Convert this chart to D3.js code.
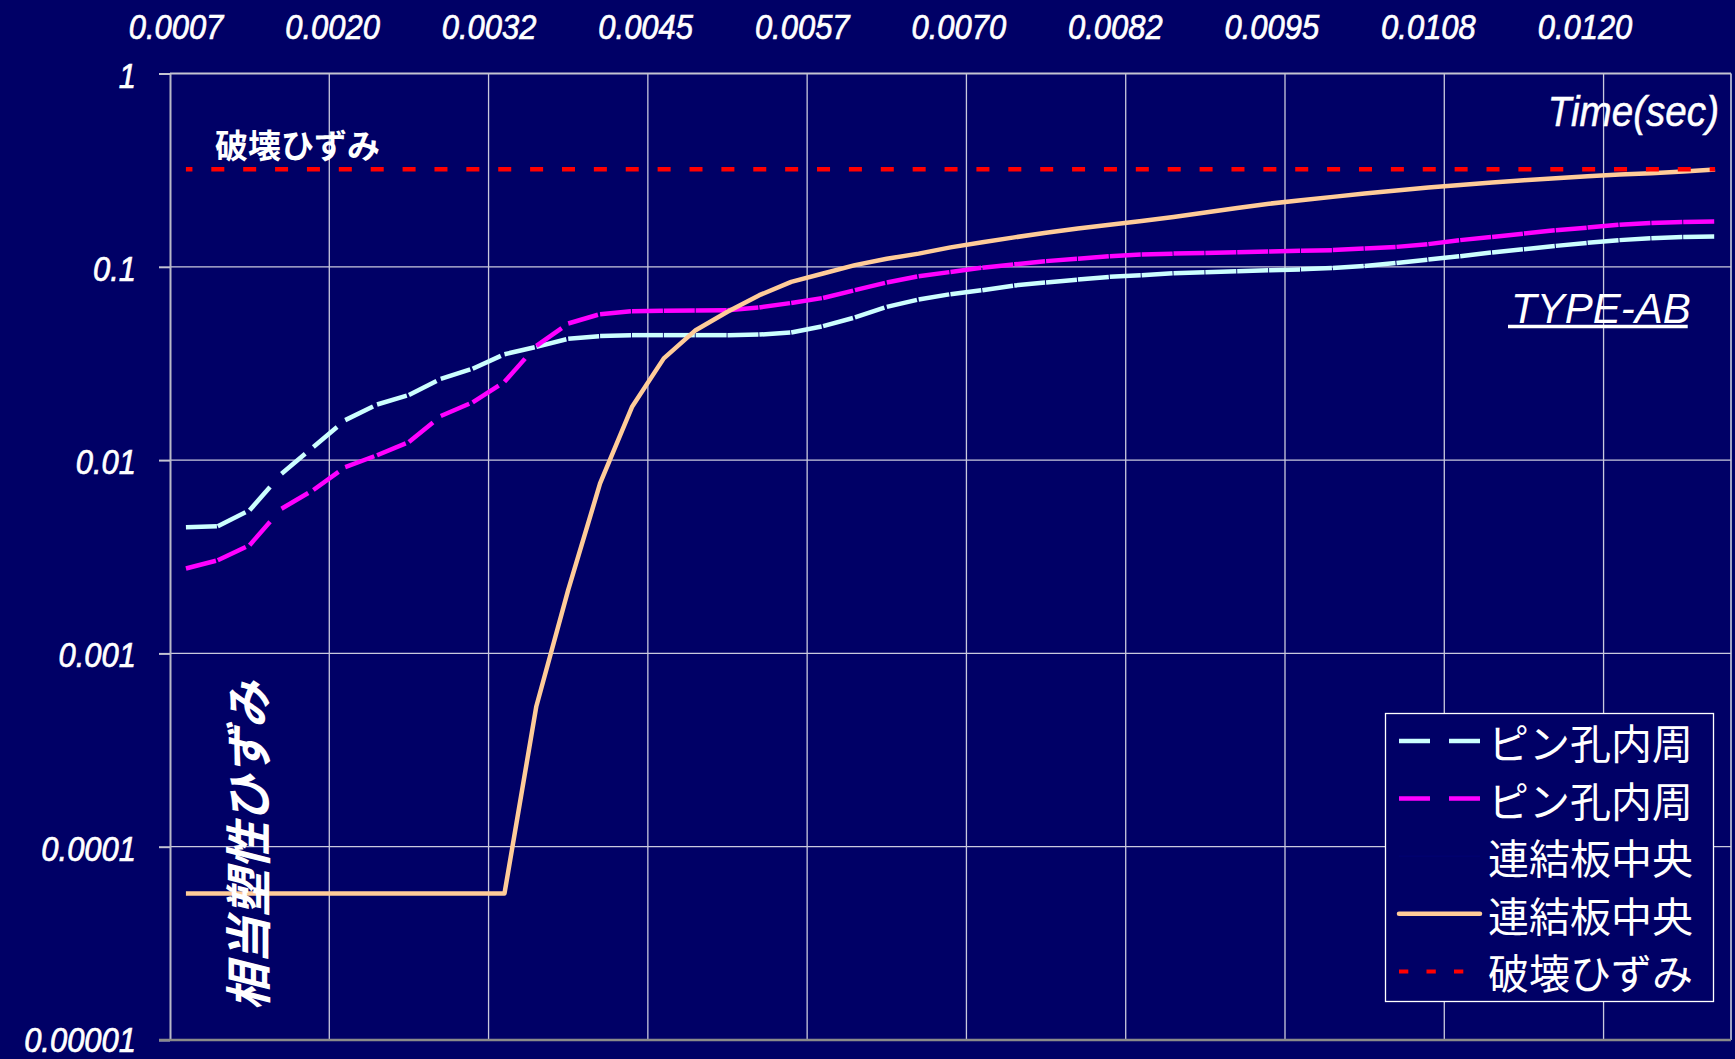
<!DOCTYPE html>
<html>
<head>
<meta charset="utf-8">
<script src="https://cdn.jsdelivr.net/npm/d3@7"></script>
<style>
  html, body { margin: 0; padding: 0; background: #000066; }
  svg { display: block; }
</style>
</head>
<body>
<svg id="chart" width="1735" height="1059"></svg>
<script>
// Time of each sample (sec)
const times = [
  0.000715, 0.000966, 0.001217, 0.001468, 0.001719, 0.001970, 0.002221, 0.002472, 0.002723, 0.002974,
  0.003225, 0.003476, 0.003727, 0.003978, 0.004229, 0.004480, 0.004731, 0.004982, 0.005233, 0.005484,
  0.005735, 0.005986, 0.006237, 0.006488, 0.006739, 0.006990, 0.007241, 0.007492, 0.007743, 0.007994,
  0.008245, 0.008496, 0.008747, 0.008998, 0.009249, 0.009500, 0.009751, 0.010002, 0.010253, 0.010504,
  0.010755, 0.011006, 0.011257, 0.011508, 0.011759, 0.012010, 0.012261, 0.012512, 0.012763
];

// Time labels printed along the top
const topTickLabels = ["0.0007", "0.0020", "0.0032", "0.0045", "0.0057",
                       "0.0070", "0.0082", "0.0095", "0.0108", "0.0120"];

// Log axis decades
const yTickValues = [1, 0.1, 0.01, 0.001, 0.0001, 0.00001];
const yTickLabels = ["1", "0.1", "0.01", "0.001", "0.0001", "0.00001"];

// Equivalent plastic strain, pin hole inner edge (first series)
const pinHoleA = [
  0.0045, 0.00455, 0.0055, 0.0085, 0.0117, 0.0161, 0.0194, 0.0217, 0.0263, 0.0297,
  0.0353, 0.0385, 0.0424, 0.0438, 0.0443, 0.0443, 0.0443, 0.0443, 0.0446, 0.0457,
  0.0493, 0.0547, 0.0620, 0.0677, 0.0722, 0.0757, 0.0800, 0.0830, 0.0859, 0.0887,
  0.0905, 0.0927, 0.0938, 0.0949, 0.0960, 0.0970, 0.0987, 0.1010, 0.1047, 0.1090,
  0.1135, 0.1186, 0.1233, 0.1283, 0.1330, 0.1374, 0.1406, 0.1428, 0.1435
];

// Equivalent plastic strain, pin hole inner edge (second series)
const pinHoleB = [
  0.00275, 0.00303, 0.00363, 0.0056, 0.0070, 0.0092, 0.0106, 0.0124, 0.0169, 0.0199,
  0.0254, 0.0390, 0.0509, 0.0569, 0.0589, 0.0593, 0.0595, 0.0596, 0.0616, 0.0650,
  0.0690, 0.0757, 0.0830, 0.0894, 0.0940, 0.0990, 0.1030, 0.1070, 0.1100, 0.1135,
  0.1158, 0.1170, 0.1180, 0.1190, 0.1200, 0.1210, 0.1220, 0.1244, 0.1268, 0.1310,
  0.1374, 0.1428, 0.1486, 0.1546, 0.1596, 0.1650, 0.1687, 0.1707, 0.1716
];

// Equivalent plastic strain, centre of the connecting plate
const plateCenter = [
  0.0000573, 0.0000573, 0.0000573, 0.0000573, 0.0000573, 0.0000573, 0.0000573, 0.0000573, 0.0000573, 0.0000573,
  0.0000573, 0.000533, 0.00213, 0.00757, 0.0188, 0.0336, 0.0470, 0.0585, 0.0713, 0.0836,
  0.0923, 0.1020, 0.1100, 0.1170, 0.1260, 0.1340, 0.1420, 0.1500, 0.1580, 0.1650,
  0.1727, 0.1810, 0.1910, 0.2017, 0.2120, 0.2210, 0.2300, 0.2395, 0.2480, 0.2570,
  0.2650, 0.2730, 0.2805, 0.2870, 0.2940, 0.3000, 0.3050, 0.3110, 0.3190
];

// Fracture strain threshold
const fractureStrain = 0.32;

const legendLabels = ["ピン孔内周", "ピン孔内周", "連結板中央", "連結板中央", "破壊ひずみ"];

// ---------------------------------------------------------------
const W = 1735, H = 1059;
const BG = "#000066";
const GRID = "#c9c9de";
const NUM_FONT = "'Liberation Sans', Arial, sans-serif";
const JP_FONT = "'Noto Sans CJK JP', 'Noto Sans CJK SC', sans-serif";

const plot = { left: 170, right: 1731, top: 73.5, bottom: 1040 };

const svg = d3.select("#chart");
svg.append("rect").attr("width", W).attr("height", H).attr("fill", BG);

const x = d3.scaleBand().domain(times).range([plot.left, plot.right]).padding(0);
const cx = t => x(t) + x.bandwidth() / 2;
const y = d3.scaleLog().domain([1e-5, 1]).range([plot.bottom, plot.top]);
const xTop = d3.scalePoint().domain(topTickLabels).range([176, 1585]);

// gridlines
const grid = svg.append("g");
const vGridTimes = times.filter((t, i) => i % 5 === 0 && i > 0);
grid.selectAll("line.v").data(vGridTimes).join("line")
  .attr("x1", d => x(d)).attr("x2", d => x(d))
  .attr("y1", plot.top).attr("y2", plot.bottom)
  .attr("stroke", GRID).attr("stroke-width", 1.3);
grid.append("line")
  .attr("x1", plot.right).attr("x2", plot.right)
  .attr("y1", plot.top).attr("y2", plot.bottom)
  .attr("stroke", GRID).attr("stroke-width", 1.6);
grid.selectAll("line.h").data(yTickValues.slice(1, -1)).join("line")
  .attr("x1", plot.left).attr("x2", plot.right)
  .attr("y1", d => y(d)).attr("y2", d => y(d))
  .attr("stroke", GRID).attr("stroke-width", 1.3);
grid.append("line")
  .attr("x1", plot.left).attr("x2", plot.right)
  .attr("y1", y(1)).attr("y2", y(1))
  .attr("stroke", "#c4c4d2").attr("stroke-width", 2);

// left axis
const yAxis = svg.append("g")
  .attr("transform", `translate(${plot.left},0)`)
  .call(d3.axisLeft(y).tickValues(yTickValues)
    .tickFormat((d, i) => yTickLabels[i]).tickSize(11).tickSizeOuter(0));
yAxis.select(".domain").attr("stroke", "#b8b8c8").attr("stroke-width", 2);
yAxis.selectAll(".tick line").attr("stroke", "#c4c4d2").attr("stroke-width", 2);
yAxis.selectAll(".tick text")
  .attr("x", -34 / 0.86).attr("dy", null)
  .attr("y", d => d === 1e-5 ? 11 : 13.5)
  .attr("transform", "scale(0.86,1)")
  .attr("fill", "#fff").attr("stroke", "#fff").attr("stroke-width", 0.7)
  .attr("font-family", NUM_FONT)
  .attr("font-style", "italic").attr("font-size", 36)
  .attr("text-anchor", "end");

// bottom axis line
svg.append("line")
  .attr("x1", plot.left - 11).attr("x2", plot.right)
  .attr("y1", plot.bottom).attr("y2", plot.bottom)
  .attr("stroke", "#8a8a8a").attr("stroke-width", 2.5);

// top time labels
svg.append("g").selectAll("text").data(topTickLabels).join("text")
  .attr("transform", d => `translate(${xTop(d)},39) scale(0.86,1)`)
  .attr("text-anchor", "middle")
  .attr("fill", "#fff").attr("stroke", "#fff").attr("stroke-width", 0.7)
  .attr("font-family", NUM_FONT)
  .attr("font-style", "italic").attr("font-size", 36)
  .text(d => d);

// series
const seriesLayer = svg.append("g");
const segLine = d3.line().x(d => cx(d.t)).y(d => y(d.v));
function dashedSeries(values, color) {
  const pts = values.map((v, i) => ({ t: times[i], v }));
  // each segment restarts the dash pattern
  seriesLayer.append("g").selectAll("path").data(d3.pairs(pts)).join("path")
    .attr("d", d => segLine(d))
    .attr("fill", "none").attr("stroke", color)
    .attr("stroke-width", 4.5).attr("stroke-dasharray", "31 19");
}
dashedSeries(pinHoleA, "#ccffff");
dashedSeries(pinHoleB, "#ff00ff");

seriesLayer.append("path")
  .datum(plateCenter.map((v, i) => ({ t: times[i], v })))
  .attr("d", segLine)
  .attr("fill", "none").attr("stroke", "#ffcc99")
  .attr("stroke-width", 4.5).attr("stroke-linejoin", "round");

seriesLayer.append("path")
  .datum([{ t: times[0], v: fractureStrain }, { t: times[times.length - 1], v: fractureStrain }])
  .attr("d", segLine)
  .attr("fill", "none").attr("stroke", "#ff0000")
  .attr("stroke-width", 4.5).attr("stroke-dasharray", "13 18.88")
  .attr("stroke-dashoffset", 6.5);

// annotations
svg.append("text")
  .attr("x", 215).attr("y", 144).attr("dominant-baseline", "central")
  .attr("fill", "#fff").attr("font-family", JP_FONT)
  .attr("font-weight", 700).attr("font-size", 33)
  .text("破壊ひずみ");

svg.append("text")
  .attr("transform", "translate(1719,126) scale(0.92,1)")
  .attr("text-anchor", "end")
  .attr("fill", "#fff").attr("stroke", "#fff").attr("stroke-width", 0.5)
  .attr("font-family", NUM_FONT)
  .attr("font-style", "italic").attr("font-size", 42)
  .text("Time(sec)");

const typeLabel = svg.append("text")
  .attr("x", 1511).attr("y", 323)
  .attr("fill", "#fff").attr("font-family", NUM_FONT)
  .attr("font-style", "italic").attr("font-size", 42)
  .text("TYPE-AB");
const typeLen = typeLabel.node().getComputedTextLength();
svg.append("line")
  .attr("x1", 1508).attr("x2", 1508 + typeLen)
  .attr("y1", 326.5).attr("y2", 326.5)
  .attr("stroke", "#fff").attr("stroke-width", 3.5);

svg.append("text")
  .attr("transform", "translate(245,846) rotate(-90)")
  .attr("text-anchor", "middle").attr("dominant-baseline", "central")
  .attr("fill", "#fff").attr("font-family", JP_FONT)
  .attr("font-weight", 700).attr("font-style", "italic").attr("font-size", 47)
  .text("相当塑性ひずみ");

// legend
const legend = svg.append("g");
legend.append("rect")
  .attr("x", 1385.5).attr("y", 713.5).attr("width", 328).attr("height", 288)
  .attr("fill", BG).attr("stroke", "#fff").attr("stroke-width", 1.3);
const legendStyles = [
  { color: "#ccffff", width: 4.5, dash: "31 19" },
  { color: "#ff00ff", width: 4.5, dash: "31 19" },
  { color: "#00006e", width: 1.6, dash: null },
  { color: "#ffcc99", width: 4.5, dash: null },
  { color: "#ff0000", width: 4, dash: "9.3 18.2" }
];
const rows = legend.selectAll("g.row").data(legendLabels).join("g")
  .attr("transform", (d, i) => `translate(0,${741 + 57.6 * i})`);
rows.append("line")
  .attr("x1", 1399).attr("x2", 1480)
  .attr("stroke", (d, i) => legendStyles[i].color)
  .attr("stroke-width", (d, i) => legendStyles[i].width)
  .attr("stroke-dasharray", (d, i) => legendStyles[i].dash)
  .attr("stroke-linecap", (d, i) => i === 3 ? "round" : "butt");
rows.append("text")
  .attr("x", 1488).attr("dominant-baseline", "central")
  .attr("fill", "#fff").attr("font-family", JP_FONT).attr("font-size", 41)
  .text(d => d);
</script>
</body>
</html>
